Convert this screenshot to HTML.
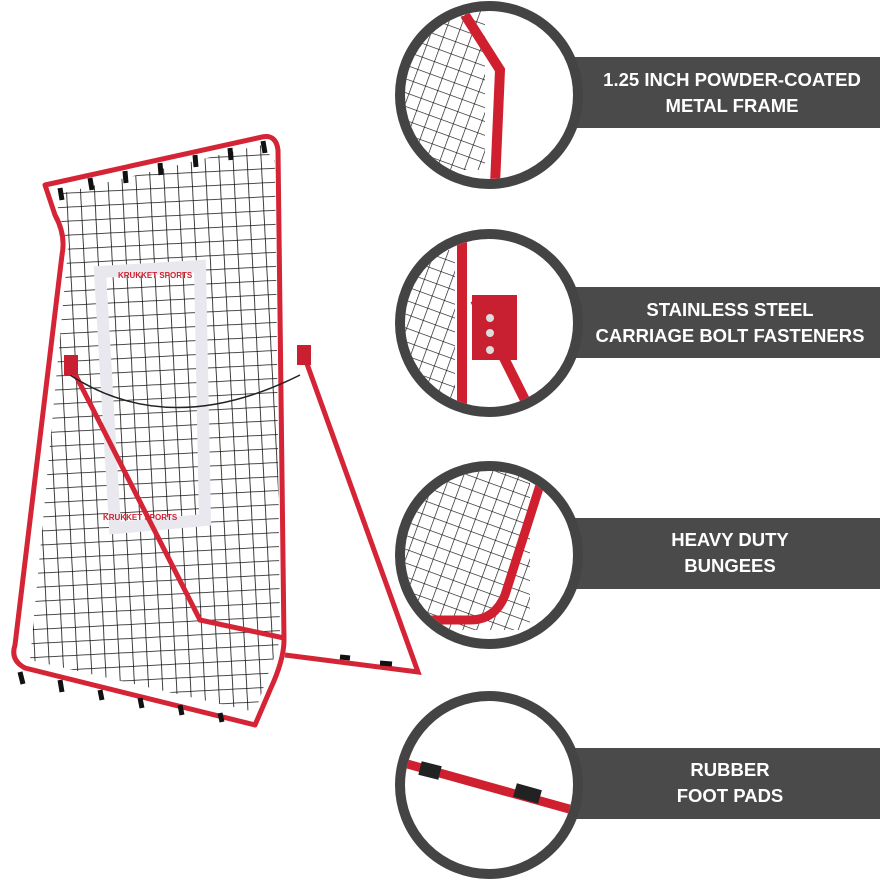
<!DOCTYPE html>
<html><head><meta charset="utf-8"><style>
html,body{margin:0;padding:0;background:#fff;width:880px;height:880px;overflow:hidden}
.t{font-family:"Liberation Sans",sans-serif;font-weight:bold;fill:#fff;font-size:18.5px;text-anchor:middle}
</style></head><body>
<svg width="880" height="880" viewBox="0 0 880 880" xmlns="http://www.w3.org/2000/svg">
<defs>
<pattern id="net" width="14" height="14" patternUnits="userSpaceOnUse" patternTransform="rotate(-3)">
<path d="M0 0H14M0 0V14" stroke="#111" stroke-width="1.6" fill="none"/>
</pattern>
<clipPath id="fc"><path d="M55 195 L260 145 L275 160 L280 640 L255 712 L30 660 L68 250 Z"/></clipPath>
<pattern id="netS" width="13" height="13" patternUnits="userSpaceOnUse" patternTransform="rotate(20)">
<path d="M0 0H13M0 0V13" stroke="#111" stroke-width="1.3" fill="none"/>
</pattern>
</defs>
<rect x="490" y="57" width="390" height="71" fill="#4a4a4a"/>
<rect x="490" y="287" width="390" height="71" fill="#4a4a4a"/>
<rect x="490" y="518" width="390" height="71" fill="#4a4a4a"/>
<rect x="490" y="748" width="390" height="71" fill="#4a4a4a"/>
<text class="t" x="732" y="86">1.25 INCH POWDER-COATED</text>
<text class="t" x="732" y="112">METAL FRAME</text>
<text class="t" x="730" y="316">STAINLESS STEEL</text>
<text class="t" x="730" y="342">CARRIAGE BOLT FASTENERS</text>
<text class="t" x="730" y="546">HEAVY DUTY</text>
<text class="t" x="730" y="572">BUNGEES</text>
<text class="t" x="730" y="776">RUBBER</text>
<text class="t" x="730" y="802">FOOT PADS</text>
<g stroke="#444" stroke-width="10" fill="#fff">
<circle cx="489" cy="95" r="89"/>
<circle cx="489" cy="323" r="89"/>
<circle cx="489" cy="555" r="89"/>
<circle cx="489" cy="785" r="89"/>
</g>
<clipPath id="c1"><circle cx="489" cy="95" r="84"/></clipPath>
<g clip-path="url(#c1)">
<rect x="400" y="10" width="85" height="160" fill="url(#netS)"/>
<path d="M465 15 L500 70 L495 185" stroke="#d02030" stroke-width="10" fill="none"/>
</g>
<clipPath id="c2"><circle cx="489" cy="323" r="84"/></clipPath>
<g clip-path="url(#c2)">
<rect x="400" y="250" width="55" height="150" fill="url(#netS)"/>
<path d="M462 240 L462 420" stroke="#d02030" stroke-width="10"/>
<path d="M475 300 L535 420" stroke="#d02030" stroke-width="10"/>
<rect x="472" y="295" width="45" height="65" fill="#c82030"/>
<circle cx="490" cy="318" r="4" fill="#ddd"/><circle cx="490" cy="333" r="4" fill="#ddd"/><circle cx="490" cy="350" r="4" fill="#ddd"/>
</g>
<clipPath id="c3"><circle cx="489" cy="555" r="84"/></clipPath>
<g clip-path="url(#c3)">
<rect x="400" y="470" width="130" height="160" fill="url(#netS)"/>
<path d="M540 485 L505 595 Q495 620 470 620 L400 620" stroke="#d02030" stroke-width="9" fill="none"/>
</g>
<clipPath id="c4"><circle cx="489" cy="785" r="84"/></clipPath>
<g clip-path="url(#c4)">
<path d="M400 762 L580 812" stroke="#d02030" stroke-width="9"/>
<path d="M420 768 L440 773" stroke="#222" stroke-width="14"/>
<path d="M515 790 L540 797" stroke="#222" stroke-width="14"/>
</g>
<rect x="0" y="120" width="300" height="620" fill="url(#net)" clip-path="url(#fc)"/>
<path d="M100 272 L200 266 L205 520 L115 528 L100 272 Z" fill="none" stroke="#e8e8ee" stroke-width="12"/>
<text x="118" y="278" font-family="Liberation Sans,sans-serif" font-size="8" font-weight="bold" fill="#d02030">KRUKKET SPORTS</text>
<text x="103" y="520" font-family="Liberation Sans,sans-serif" font-size="8" font-weight="bold" fill="#d02030">KRUKKET SPORTS</text>
<path d="M45 185 L262 137 Q276 134 278 150 L284 640 Q284 660 270 690 L255 725 L25 668 Q10 660 15 645 L62 255 Q66 235 55 215 Z" fill="none" stroke="#d42436" stroke-width="5" stroke-linejoin="round"/>
<path d="M302 350 L418 672 L285 655" fill="none" stroke="#d42436" stroke-width="5"/>
<path d="M72 368 L200 620 L284 638" fill="none" stroke="#d42436" stroke-width="5"/>
<path d="M70 375 Q170 440 300 375" fill="none" stroke="#222" stroke-width="1.5"/>
<rect x="297" y="345" width="14" height="20" fill="#c82030"/>
<rect x="64" y="355" width="14" height="20" fill="#c82030"/>
<g stroke="#111" stroke-width="5">
<path d="M60 188 L62 200M90 178 L92 190M125 171 L126 183M160 163 L161 175M195 155 L196 167M230 148 L231 160M263 141 L265 153"/>
<path d="M20 672 L23 684M60 680 L62 692M100 690 L102 700M140 698 L142 708M180 705 L182 715M220 713 L222 722"/>
<path d="M340 657 L350 658M380 663 L392 664"/>
</g>
</svg>
</body></html>
